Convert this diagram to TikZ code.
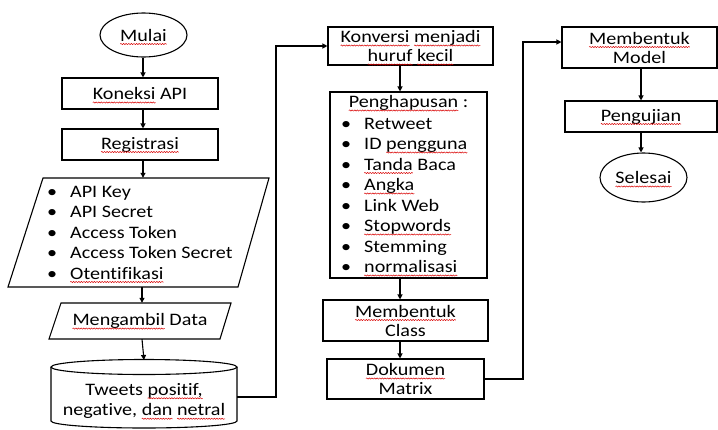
\documentclass[tikz,border=0pt]{standalone}
\usepackage{fontspec}
\setmainfont{Carlito}[Ligatures=NoCommon, FakeStretch=1.15]
\usetikzlibrary{shapes.geometric,arrows.meta,decorations.pathmorphing}
\newcommand\sq[1]{\tikz[baseline=(sqw.base)]{\node[shape=rectangle, draw=none, fill=none, minimum width=0pt, minimum height=0pt, inner sep=0pt, outer sep=0pt, anchor=base, text=black](sqw) at (0,0) {#1};\draw[overlay, red!85!black, line width=0.5pt, decorate, decoration={snake, amplitude=0.6pt, segment length=2.6pt}] ([yshift=-3pt]sqw.base west) -- ([yshift=-3pt]sqw.base east);}}
\newcommand\blt{\makebox[23pt][l]{\textbullet}}
\tikzset{
  basefont/.style={font=\fontsize{17.5}{20.5}\selectfont, text=black},
  boxfont/.style={font=\fontsize{17.5}{19}\selectfont, text=black},
  box/.style={boxfont, draw, line width=1.1pt, rectangle, inner sep=0pt, align=center},
  oval/.style={basefont, draw, line width=1.1pt, ellipse, inner sep=0pt},
  ghost/.style={basefont, inner sep=0pt, align=center},
  item/.style={basefont, inner sep=0pt, anchor=base west},
  arr/.style={line width=1.1pt, -{Triangle[length=5pt,width=5pt]}},
  edgeline/.style={line width=1.1pt, line join=miter},
}
\begin{document}
\begin{tikzpicture}[x=1pt,y=-1pt]
\useasboundingbox (0,0) rectangle (718,429);
% left column
\coordinate (bx) at (143,0);
\node[oval, minimum width=87pt, minimum height=44pt] (mulai) at (143.5,35) {\sq{Mulai}};
\node[box, minimum width=156pt, minimum height=31pt] (koneksi) at (140,93.5) {\sq{Koneksi} API};
\node[box, minimum width=156pt, minimum height=31pt] (regis) at (140,144.5) {\sq{Registrasi}};
\node[ghost, minimum width=262pt, minimum height=109pt] (auth) at (138.5,232.5) {};
\draw[edgeline] (43,178) -- (269,178) -- (238,287) -- (8,287) -- cycle;
\foreach \t [count=\i] in {{API Key},{API Secret},{Access Token},{Access Token Secret},{\sq{Otentifikasi}}}
  \node[item] (a\i) at (47,176.5+20.5*\i) {\blt\t};
\node[ghost, minimum width=181pt, minimum height=36pt] (ambil) at (140,321) {\sq{Mengambil} Data};
\draw[edgeline] (61,303) -- (231,303) -- (220,339) -- (49,339) -- cycle;
\node[ghost, minimum width=186pt] (tweets) at (144,401) {Tweets \sq{positif,}\\negative, \sq{dan} \sq{netral}};
\draw[edgeline] (51,367) -- (51,421) arc[start angle=180, end angle=360, x radius=93pt, y radius=7pt] -- (237,367);
\draw[edgeline] (144,367) ellipse[x radius=93pt, y radius=7.5pt];
\draw[arr] (mulai.south -| bx) -- (koneksi.north -| bx);
\draw[arr] (koneksi.south -| bx) -- (regis.north -| bx);
\draw[arr] (regis.south -| bx) -- (auth.north -| bx);
\coordinate (bx2) at (142,0);
\draw[arr] (auth.south -| bx2) -- (ambil.north -| bx2);
\draw[arr] (ambil.south -| bx2) -- (144,360);
% middle column
\coordinate (c1) at (276,397);
\node[box, minimum width=165pt, minimum height=38pt] (konv) at (410.5,46) {\sq{Konversi} \sq{menjadi}\\\sq{huruf} \sq{kecil}};
\draw[arr] (tweets.east |- c1) -- (c1) |- (konv.west);
\node[box, minimum width=157pt, minimum height=186pt] (hapus) at (408.5,185) {};
\node[basefont, inner sep=0pt, anchor=base] (htitle) at (408.5,107.5) {\sq{Penghapusan} :};
\foreach \t [count=\i] in {{Retweet},{ID \sq{pengguna}},{\sq{Tanda} Baca},{\sq{Angka}},{Link Web},{\sq{Stopwords}},{Stemming},{\sq{normalisasi}}}
  \node[item] (h\i) at (341,108.5+20.5*\i) {\blt\t};
\node[box, minimum width=165pt, minimum height=41pt] (class) at (405.5,320.5) {\sq{Membentuk}\\Class};
\node[box, minimum width=157pt, minimum height=40pt] (dok) at (405.5,379) {\sq{Dokumen}\\Matrix};
\coordinate (ax) at (400,0);
\draw[arr] (konv.south -| ax) -- (hapus.north -| ax);
\draw[arr] (hapus.south -| ax) -- (class.north -| ax);
\draw[arr] (class.south -| ax) -- (dok.north -| ax);
% right column
\node[box, minimum width=155pt, minimum height=41pt] (model) at (639.5,47.5) {\sq{Membentuk}\\Model};
\node[box, minimum width=152pt, minimum height=31pt] (peng) at (641,116.5) {\sq{Pengujian}};
\node[oval, minimum width=87pt, minimum height=49pt] (selesai) at (643.5,177.5) {\sq{Selesai}};
\coordinate (c2) at (523,42);
\draw[arr] (dok.east) -| (c2) -- (model.west |- c2);
\coordinate (rx) at (641,0);
\draw[arr] (model.south -| rx) -- (peng.north -| rx);
\draw[arr] (peng.south -| rx) -- (selesai.north -| rx);
\end{tikzpicture}
\end{document}
